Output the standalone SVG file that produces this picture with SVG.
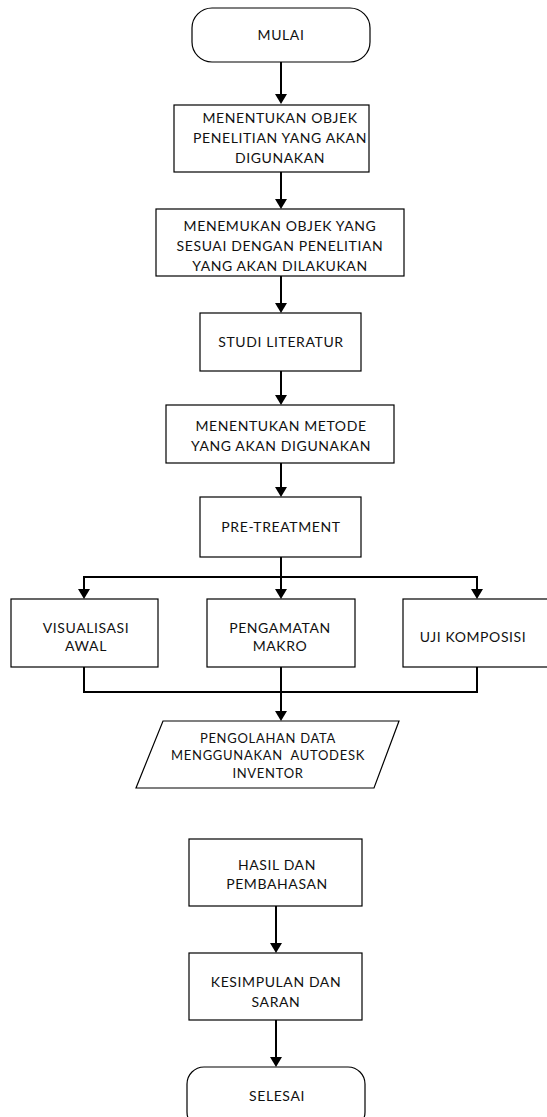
<svg xmlns="http://www.w3.org/2000/svg" width="547" height="1117" viewBox="0 0 547 1117">
<style>
.n{fill:#fff;stroke:#000;stroke-width:1.2}
.t{font-family:Lato,"Open Sans",sans-serif;font-size:14px;fill:#111;text-anchor:middle;letter-spacing:0.6px}
.s{font-size:13px;letter-spacing:0.7px}
.c{fill:none;stroke:#000;stroke-width:2}
.h{fill:#000}
</style>
<rect width="547" height="1117" fill="#fff"/>
<g id="connectors">
<path class="c" d="M281,62 V95"/>
<path class="h" d="M275,94 L287,94 L281,104 Z"/>
<path class="c" d="M281,172 V200"/>
<path class="h" d="M275,199 L287,199 L281,209 Z"/>
<path class="c" d="M281,276 V304"/>
<path class="h" d="M275,303 L287,303 L281,313 Z"/>
<path class="c" d="M281,371 V396"/>
<path class="h" d="M275,395 L287,395 L281,405 Z"/>
<path class="c" d="M281,463 V488"/>
<path class="h" d="M275,487 L287,487 L281,497 Z"/>
<path class="c" d="M281,557 V590"/>
<path class="c" d="M84,590 V577 H477 V590"/>
<path class="h" d="M78,589 L90,589 L84,599 Z"/>
<path class="h" d="M275,589 L287,589 L281,599 Z"/>
<path class="h" d="M471,589 L483,589 L477,599 Z"/>
<path class="c" d="M84,667 V692 H477 V667"/>
<path class="c" d="M281,667 V712"/>
<path class="h" d="M275,711 L287,711 L281,721 Z"/>
<path class="c" d="M276,906 V944"/>
<path class="h" d="M270,943 L282,943 L276,953 Z"/>
<path class="c" d="M276,1020 V1058"/>
<path class="h" d="M270,1057 L282,1057 L276,1067 Z"/>
</g>
<g id="mulai">
<rect class="n" x="192" y="8" width="178" height="54" rx="20"/>
<text class="t" x="281" y="40">MULAI</text>
</g>
<g id="menentukan-objek">
<rect class="n" x="174" y="105" width="195" height="67"/>
<text class="t" x="280" y="123">MENENTUKAN OBJEK</text>
<text class="t" x="280" y="143">PENELITIAN YANG AKAN</text>
<text class="t" x="280" y="163">DIGUNAKAN</text>
</g>
<g id="menemukan-objek">
<rect class="n" x="156" y="209" width="248" height="67"/>
<text class="t" x="280" y="231">MENEMUKAN OBJEK YANG</text>
<text class="t" x="280" y="251">SESUAI DENGAN PENELITIAN</text>
<text class="t" x="280" y="271">YANG AKAN DILAKUKAN</text>
</g>
<g id="studi-literatur">
<rect class="n" x="200" y="313" width="161" height="58"/>
<text class="t" x="281" y="347">STUDI LITERATUR</text>
</g>
<g id="menentukan-metode">
<rect class="n" x="166" y="405" width="228" height="58"/>
<text class="t" x="281" y="431">MENENTUKAN METODE</text>
<text class="t" x="281" y="451">YANG AKAN DIGUNAKAN</text>
</g>
<g id="pre-treatment">
<rect class="n" x="200" y="497" width="161" height="60"/>
<text class="t" x="281" y="532">PRE-TREATMENT</text>
</g>
<g id="visualisasi-awal">
<rect class="n" x="11" y="599" width="147" height="68"/>
<text class="t" x="86" y="633">VISUALISASI</text>
<text class="t" x="86" y="651">AWAL</text>
</g>
<g id="pengamatan-makro">
<rect class="n" x="207" y="599" width="148" height="68"/>
<text class="t" x="280" y="633">PENGAMATAN</text>
<text class="t" x="280" y="651">MAKRO</text>
</g>
<g id="uji-komposisi">
<rect class="n" x="403" y="599" width="150" height="68"/>
<text class="t" x="473" y="642">UJI KOMPOSISI</text>
</g>
<g id="pengolahan-data">
<polygon class="n" points="163,721 399,721 374,788 136,788"/>
<text class="t s" x="268" y="743">PENGOLAHAN DATA</text>
<text class="t s" x="268" y="760">MENGGUNAKAN&#160; AUTODESK</text>
<text class="t s" x="268" y="778">INVENTOR</text>
</g>
<g id="hasil">
<rect class="n" x="189" y="839" width="173" height="67"/>
<text class="t" x="277" y="870">HASIL DAN</text>
<text class="t" x="277" y="889">PEMBAHASAN</text>
</g>
<g id="kesimpulan">
<rect class="n" x="189" y="953" width="173" height="67"/>
<text class="t" x="276" y="987">KESIMPULAN DAN</text>
<text class="t" x="276" y="1007">SARAN</text>
</g>
<g id="selesai">
<rect class="n" x="187" y="1067" width="178" height="62" rx="17"/>
<text class="t" x="277" y="1101">SELESAI</text>
</g>
</svg>
